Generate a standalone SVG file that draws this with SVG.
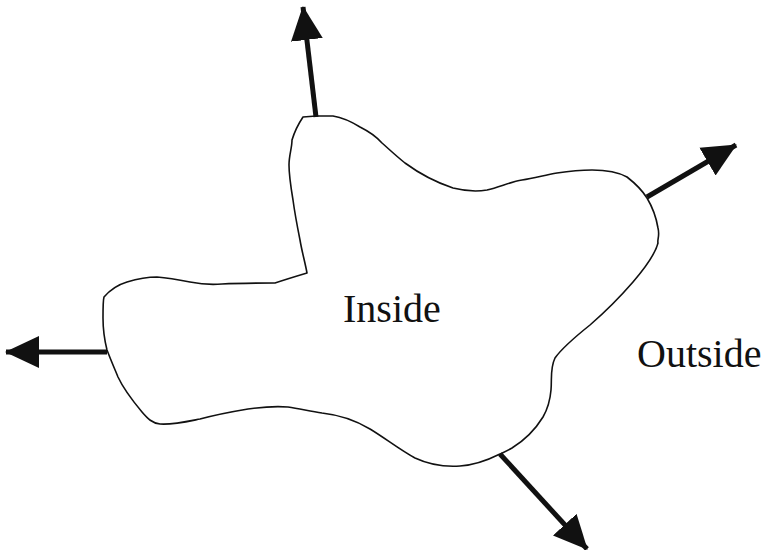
<svg xmlns="http://www.w3.org/2000/svg" width="765" height="550" viewBox="0 0 765 550">
  <defs>
    <style>
      .blob { fill: none; stroke: #111; stroke-width: 1.6; stroke-linejoin: round; }
      .arrow { stroke: #111; stroke-width: 5; fill: none; marker-end: url(#head); }
      .label { font-family: "Liberation Serif", "Times New Roman", serif; font-size: 40px; fill: #111; }
    </style>
    <marker id="head" markerUnits="userSpaceOnUse" markerWidth="34" markerHeight="34" viewBox="0 0 34 34" refX="33" refY="17" orient="auto">
      <path d="M0,1 L34,17 L0,33 z" fill="#111"/>
    </marker>
  </defs>
  <rect width="765" height="550" fill="#fff"/>
  <g id="region">
    <path class="blob" d="M303,117 L316,116 L333,116 C345,118 352,122 360,127 C368,131 375,135 382,143 C390,150 395,155 405,163 C420,174 435,182 453,188 C465,191 475,192 487,190 C500,187 510,182 522,180 C535,178 545,175 557,173 C570,171 580,170 592,170 C605,170 618,172 627,177 C636,184 642,190 647,198 C653,208 656,216 658,228 C660,236 657,240 658,243 C655,255 645,268 633,282 C620,297 605,312 590,325 C575,337 562,348 555,358 C550,368 552,378 551,390 C550,402 547,410 543,417 C535,430 525,440 512,448 C505,452 502,453 500,454 C488,460 475,465 460,466 C445,467 430,465 415,458 C400,450 385,438 370,429 C355,420 340,415 322,413 C310,411 300,409 288,407 C275,406 262,407 248,409 C230,412 215,415 200,419 C185,422 172,425 160,424 C152,423 148,419 142,412 C132,400 124,390 118,377 C113,365 110,358 107,350 C104,338 103,330 103,318 C103,308 103,300 104,297 C110,290 117,285 127,282 C137,279 145,277 157,277 C170,278 180,280 190,282 C200,284 210,285 222,284 C240,283 260,283 275,283 C287,279 297,276 307,273 C305,262 302,252 300,240 C297,225 295,215 293,200 C291,188 289,175 289,165 C289,155 292,148 292,140 C295,130 299,123 303,117 Z"/>
  </g>
  <g id="connectors">
    <line class="arrow" x1="316" y1="117" x2="303" y2="7"/>
    <line class="arrow" x1="647" y1="197" x2="736" y2="145"/>
    <line class="arrow" x1="107" y1="352" x2="6" y2="352"/>
    <line class="arrow" x1="500" y1="454" x2="587" y2="549"/>
  </g>
  <g id="inside">
    <text class="label" x="343" y="322">Inside</text>
  </g>
  <g id="outside">
    <text class="label" x="637" y="367">Outside</text>
  </g>
</svg>
